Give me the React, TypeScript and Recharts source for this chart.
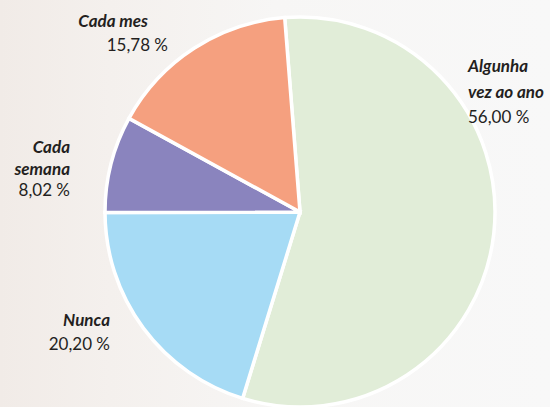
import React from "react";
import { PieChart, Pie, Cell } from "recharts";

const categories = ["Algunha vez ao ano", "Nunca", "Cada semana", "Cada mes"];
const nameLines = [["Algunha", "vez ao ano"], ["Nunca"], ["Cada", "semana"], ["Cada mes"]];
const values = [56.0, 20.2, 8.02, 15.78];
const colors = ["#e1edd8", "#a6dbf5", "#8a84be", "#f5a07f"];

const data = categories.map((name, i) => ({ name, value: values[i] }));

// label layout: anchor, x offset, first baseline offset, line gap, value x offset (relative to pie centre)
const labelLayout = [
  { anchor: "start", dx: 168, dy: -140, gap: 25.5, vdx: 168 },
  { anchor: "end", dx: -190, dy: 114, gap: 24, vdx: -190 },
  { anchor: "end", dx: -230, dy: -59, gap: 21.5, vdx: -230 },
  { anchor: "end", dx: -152, dy: -185, gap: 24, vdx: -132 },
];

const fmt = (v: number) => v.toFixed(2).replace(".", ",") + " %";

const renderLabel = (props: any) => {
  const { cx, cy, index, value } = props;
  const L = labelLayout[index];
  const lines = nameLines[index];
  return (
    <g key={"lbl" + index}>
      {lines.map((t, j) => (
        <text
          key={j}
          x={cx + L.dx}
          y={cy + L.dy + j * L.gap}
          textAnchor={L.anchor}
          fontFamily="Lato, 'Open Sans', sans-serif"
          fontStyle="italic"
          fontWeight={700}
          fontSize={17}
          fill="#241f1e"
        >
          {t}
        </text>
      ))}
      <text
        x={cx + L.vdx}
        y={cy + L.dy + lines.length * L.gap}
        textAnchor={L.anchor}
        fontFamily="Lato, 'Open Sans', sans-serif"
        fontSize={17}
        fill="#241f1e"
      >
        {fmt(value)}
      </text>
    </g>
  );
};

export default function App() {
  return (
    <div
      style={{
        position: "fixed",
        left: 0,
        top: 0,
        width: 550,
        height: 407,
        background:
          "linear-gradient(to right, #f1ebe7 0%, #f4f0ed 20%, #f7f6f5 50%, #f8f8f8 100%)",
      }}
    >
      <PieChart width={550} height={407} margin={{ top: 0, right: 0, bottom: 0, left: 0 }}>
        <Pie
          data={data}
          dataKey="value"
          nameKey="name"
          cx={300}
          cy={212}
          outerRadius={195}
          startAngle={94.5}
          endAngle={-265.5}
          stroke="#ffffff"
          strokeWidth={3.5}
          label={renderLabel}
          labelLine={false}
          isAnimationActive={false}
        >
          {data.map((d, i) => (
            <Cell key={d.name} fill={colors[i]} />
          ))}
        </Pie>
      </PieChart>
    </div>
  );
}
